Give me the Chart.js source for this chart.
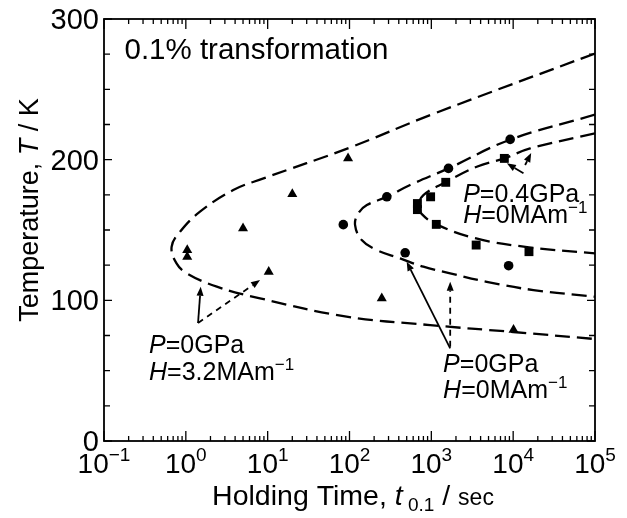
<!DOCTYPE html>
<html><head><meta charset="utf-8">
<script src="https://cdn.jsdelivr.net/npm/chart.js@4"></script>
<style>html,body{margin:0;padding:0;background:#fff}#wrap{width:627px;height:518px}</style>
</head><body><div id="wrap"><canvas id="c"></canvas></div>
<script>
// ---- data ----
// P=0GPa, H=3.2MAm-1 (triangles)
const triX = [1.04, 1.04, 5.0, 10.3, 20, 96, 248, 10100];
const triY = [135.7, 131, 151.2, 120.3, 175.5, 201, 101.4, 79];
// P=0GPa, H=0MAm-1 (circles)
const cirX = [84, 286, 479, 1620, 8800, 9190];
const cirY = [153.8, 173.6, 133.8, 193.8, 124.6, 214.4];
// P=0.4GPa, H=0MAm-1 (squares)
const sqX = [676, 676, 980, 1150, 1500, 3530, 7800, 15600];
const sqY = [168.8, 164.5, 173.6, 154, 183.9, 139.3, 200.9, 134.6];
// dashed C-curves (upper branch right->nose->lower branch right)
const outerX = [100000, 1000, 100, 8.9, 3.8, 1.49, 0.85, 0.67, 0.77, 1.03, 2.39, 8.07, 92, 966, 10000, 100000];
const outerY = [275.5, 232, 208.5, 186.7, 178.4, 163, 148.8, 138, 126.3, 119.2, 109.7, 101.4, 88.4, 82.4, 77.5, 72.5];
const middleX = [100000, 9000, 1620, 550, 286, 163, 128, 117, 141, 216, 416, 800, 1700, 4760, 17700, 100000];
const middleY = [232, 214, 193.8, 182, 173.6, 167.7, 161.8, 153.5, 142.9, 135.7, 129.8, 123.9, 119.2, 113.2, 107.3, 102.6];
const innerX = [100000, 16100, 7800, 3590, 1500, 800, 697, 766, 1150, 3530, 15600, 100000];
const innerY = [218.7, 208, 200.9, 195, 184, 174.8, 167, 161.3, 154, 144, 137.7, 133.4];
// axis ticks
const xMajorTicks = [0.1, 1, 10, 100, 1000, 10000, 100000];
const xTickExponents = ['\u22121', '0', '1', '2', '3', '4', '5'];
const yTickValues = [0, 25, 50, 75, 100, 125, 150, 175, 200, 225, 250, 275, 300];
const yLabelValues = [0, 100, 200, 300];
const yTickLabels = ['0', '100', '200', '300'];

const pts = (xs, ys) => xs.map((x, i) => ({x: x, y: ys[i]}));
const FONT = '"Liberation Sans", Arial, Helvetica, sans-serif';

function seg(t, size, italic, dy) { return {t: t, size: size, italic: !!italic, dy: dy || 0}; }
function richWidth(ctx, segs) {
  let w = 0;
  segs.forEach(s => { ctx.font = (s.italic ? 'italic ' : '') + s.size + 'px ' + FONT; w += ctx.measureText(s.t).width; });
  return w;
}
function drawRich(ctx, x, y, segs, align) {
  const w = richWidth(ctx, segs);
  let cx = align === 'center' ? x - w / 2 : (align === 'right' ? x - w : x);
  ctx.textBaseline = 'alphabetic';
  ctx.textAlign = 'left';
  segs.forEach(s => {
    ctx.font = (s.italic ? 'italic ' : '') + s.size + 'px ' + FONT;
    ctx.fillText(s.t, cx, y + s.dy);
    cx += ctx.measureText(s.t).width;
  });
}
function arrow(ctx, x1, y1, x2, y2, dashed) {
  ctx.save();
  ctx.lineWidth = 1.8;
  ctx.strokeStyle = '#000';
  ctx.fillStyle = '#000';
  const ang = Math.atan2(y2 - y1, x2 - x1);
  const hl = 9, hw = 3.5;
  const bx = x2 - hl * Math.cos(ang), by = y2 - hl * Math.sin(ang);
  ctx.setLineDash(dashed ? [6, 5] : []);
  ctx.beginPath(); ctx.moveTo(x1, y1); ctx.lineTo(bx, by); ctx.stroke();
  ctx.setLineDash([]);
  ctx.beginPath();
  ctx.moveTo(x2, y2);
  ctx.lineTo(bx + hw * Math.sin(ang), by - hw * Math.cos(ang));
  ctx.lineTo(bx - hw * Math.sin(ang), by + hw * Math.cos(ang));
  ctx.closePath(); ctx.fill();
  ctx.restore();
}

// annotation arrows in data coordinates: [x1,y1,x2,y2,dashed]
const arrows = [
  [1.41, 83.9, 1.52, 109.7, false],
  [1.41, 83.9, 8.07, 114.4, true],
  [1700, 65.9, 500, 127.4, false],
  [1700, 67, 1700, 113.2, true],
  [13360, 190.3, 8380, 197.4, false],
  [14000, 196.2, 16600, 204.7, true]
];

const decor = {
  id: 'decor',
  afterDraw(chart) {
    const ctx = chart.ctx, a = chart.chartArea, xs = chart.scales.x, ys = chart.scales.y;
    ctx.save();
    ctx.strokeStyle = '#000'; ctx.fillStyle = '#000';
    // frame
    ctx.lineWidth = 1.8;
    ctx.strokeRect(a.left, a.top, a.right - a.left, a.bottom - a.top);
    // y ticks (inward, both sides)
    ctx.lineWidth = 1.3;
    yTickValues.forEach(v => {
      const y = ys.getPixelForValue(v);
      const L = yLabelValues.includes(v) ? 8 : 6;
      ctx.beginPath();
      ctx.moveTo(a.left, y); ctx.lineTo(a.left + L, y);
      ctx.moveTo(a.right, y); ctx.lineTo(a.right - L, y);
      ctx.stroke();
    });
    // x ticks (inward, top & bottom)
    xMajorTicks.forEach((d, i) => {
      const ms = [d];
      if (i < xMajorTicks.length - 1) for (let k = 2; k <= 9; k++) ms.push(d * k);
      ms.forEach((v, j) => {
        const x = xs.getPixelForValue(v);
        const L = j === 0 ? 10 : 5;
        ctx.beginPath();
        ctx.moveTo(x, a.bottom); ctx.lineTo(x, a.bottom - L);
        ctx.moveTo(x, a.top); ctx.lineTo(x, a.top + L);
        ctx.stroke();
      });
    });
    // y tick labels
    yLabelValues.forEach((v, i) => {
      drawRich(ctx, a.left - 5, ys.getPixelForValue(v) + 10, [seg(yTickLabels[i], 29)], 'right');
    });
    // x tick labels
    xMajorTicks.forEach((v, i) => {
      drawRich(ctx, xs.getPixelForValue(v), a.bottom + 32, [seg('10', 28), seg(xTickExponents[i], 19, false, -12)], 'center');
    });
    // axis titles
    drawRich(ctx, 353, 505, [seg('Holding Time, ', 28.5), seg('t', 28.5, true), seg(' 0.1', 19, false, 6), seg(' / ', 28.5), seg('sec', 23)], 'center');
    ctx.save();
    ctx.translate(38, 210); ctx.rotate(-Math.PI / 2);
    drawRich(ctx, 0, 0, [seg('Temperature, ', 27), seg('T', 27, true), seg(' / K', 27)], 'center');
    ctx.restore();
    // texts in data coords
    const X = v => xs.getPixelForValue(v), Y = v => ys.getPixelForValue(v);
    drawRich(ctx, X(0.178), Y(271.5), [seg('0.1% transformation', 29.5)], 'left');
    drawRich(ctx, X(2450), Y(169.9), [seg('P', 25, true), seg('=0.4GPa', 25)], 'left');
    drawRich(ctx, X(2450), Y(154.9), [seg('H', 25, true), seg('=0MAm', 25), seg('\u22121', 17, false, -10)], 'left');
    drawRich(ctx, X(0.355), Y(62.5), [seg('P', 25, true), seg('=0GPa', 25)], 'left');
    drawRich(ctx, X(0.355), Y(43.4), [seg('H', 25, true), seg('=3.2MAm', 25), seg('\u22121', 17, false, -10)], 'left');
    drawRich(ctx, X(1393), Y(49), [seg('P', 25, true), seg('=0GPa', 25)], 'left');
    drawRich(ctx, X(1393), Y(30.6), [seg('H', 25, true), seg('=0MAm', 25), seg('\u22121', 17, false, -10)], 'left');
    arrows.forEach(r => arrow(ctx, X(r[0]), Y(r[1]), X(r[2]), Y(r[3]), r[4]));
    ctx.restore();
  }
};

const curveStyle = {showLine: true, pointRadius: 0, borderColor: '#000', borderWidth: 2.3, borderDash: [15, 7], tension: 0.4, fill: false};

new Chart(document.getElementById('c'), {
  type: 'scatter',
  data: {
    datasets: [
      {label: 'P=0GPa, H=3.2MAm-1', data: pts(triX, triY), pointStyle: 'triangle', pointRadius: 5.8, backgroundColor: '#000', borderColor: '#000', borderWidth: 0},
      {label: 'P=0GPa, H=0MAm-1', data: pts(cirX, cirY), pointStyle: 'circle', pointRadius: 4.8, backgroundColor: '#000', borderColor: '#000', borderWidth: 0},
      {label: 'P=0.4GPa, H=0MAm-1', data: pts(sqX, sqY), pointStyle: 'rect', pointRadius: 6.3, backgroundColor: '#000', borderColor: '#000', borderWidth: 0},
      Object.assign({label: 'curve H=3.2', data: pts(outerX, outerY)}, curveStyle),
      Object.assign({label: 'curve H=0', data: pts(middleX, middleY)}, curveStyle),
      Object.assign({label: 'curve P=0.4', data: pts(innerX, innerY)}, curveStyle)
    ]
  },
  options: {
    responsive: true, maintainAspectRatio: false, animation: false,
    layout: {padding: {left: 104, right: 32, top: 19, bottom: 77}},
    plugins: {legend: {display: false}, tooltip: {enabled: false}},
    scales: {
      x: {type: 'logarithmic', min: 0.1, max: 100000, display: false},
      y: {type: 'linear', min: 0, max: 300, display: false}
    }
  },
  plugins: [decor]
});
</script></body></html>
